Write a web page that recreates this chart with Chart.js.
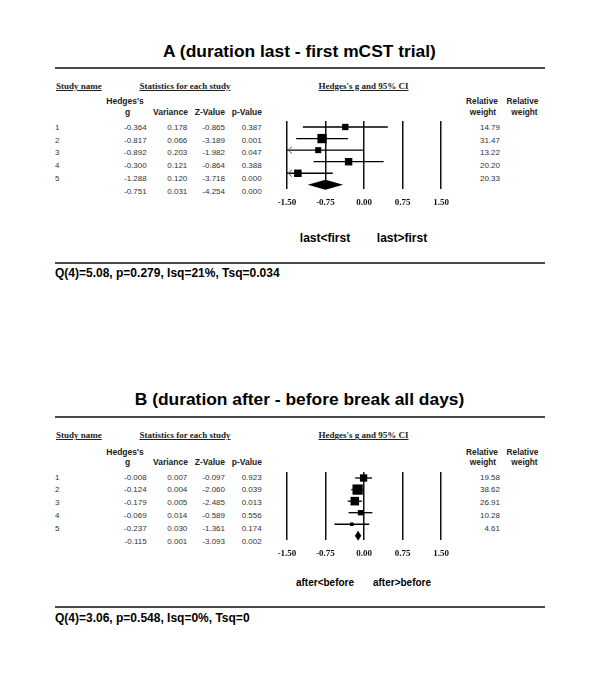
<!DOCTYPE html>
<html>
<head>
<meta charset="utf-8">
<script src="https://cdn.jsdelivr.net/npm/chart.js@4"></script>
<style>
  html, body { margin:0; padding:0; background:#fff; }
  #page { position:relative; width:600px; height:680px; overflow:hidden; background:#fff; }
  .t { position:absolute; white-space:nowrap; color:#111; }
  .rule { position:absolute; background:#4a4a4a; height:2px; }
  canvas { position:absolute; }
</style>
</head>
<body>
<div id="page"></div>
<script>
// ---------------- DATA ----------------
const studyNames = ['1', '2', '3', '4', '5'];
const xTicks = [-1.5, -0.75, 0, 0.75, 1.5];

// Panel A
const titleA = 'A (duration last - first mCST trial)';
const hedgesA   = [-0.364, -0.817, -0.892, -0.300, -1.288];
const varianceA = [0.178, 0.066, 0.203, 0.121, 0.120];
const zValueA   = [-0.865, -3.189, -1.982, -0.864, -3.718];
const pValueA   = [0.387, 0.001, 0.047, 0.388, 0.000];
const lowerA    = [-1.191, -1.321, -1.775, -0.982, -1.967];
const upperA    = [0.463, -0.313, -0.009, 0.382, -0.609];
const weightA   = [14.79, 31.47, 13.22, 20.20, 20.33];
const summaryA  = [-0.751, 0.031, -4.254, 0.000];   // g, variance, z, p
const summaryCIA = [-1.096, -0.406];
const sideLabelsA = ['last<first', 'last>first'];
const footerA = 'Q(4)=5.08, p=0.279, Isq=21%, Tsq=0.034';

// Panel B
const titleB = 'B (duration after - before break all days)';
const hedgesB   = [-0.008, -0.124, -0.179, -0.069, -0.237];
const varianceB = [0.007, 0.004, 0.005, 0.014, 0.030];
const zValueB   = [-0.097, -2.060, -2.485, -0.589, -1.361];
const pValueB   = [0.923, 0.039, 0.013, 0.556, 0.174];
const lowerB    = [-0.172, -0.248, -0.318, -0.301, -0.576];
const upperB    = [0.156, 0.000, -0.040, 0.163, 0.102];
const weightB   = [19.58, 38.62, 26.91, 10.28, 4.61];
const summaryB  = [-0.115, 0.001, -3.093, 0.002];
const summaryCIB = [-0.177, -0.053];
const sideLabelsB = ['after<before', 'after>before'];
const footerB = 'Q(4)=3.06, p=0.548, Isq=0%, Tsq=0';

// ---------------- LAYOUT ----------------
const page = document.getElementById('page');
const SANS = '"Liberation Sans", Arial, sans-serif';
const SERIF = '"Liberation Serif", "Times New Roman", serif';

function txt(s, x, base, o) {
  const size = o.size || 8;
  const d = document.createElement('div');
  d.className = 't';
  d.textContent = s;
  let tx = '0';
  if (o.align === 'center') tx = '-50%';
  else if (o.align === 'right') tx = '-100%';
  d.style.left = x + 'px';
  d.style.top = (base - 0.845 * size) + 'px';
  d.style.transform = 'translateX(' + tx + ')';
  d.style.fontFamily = o.family || SANS;
  d.style.fontSize = size + 'px';
  d.style.lineHeight = size + 'px';
  d.style.fontWeight = o.bold ? 'bold' : 'normal';
  if (o.color) d.style.color = o.color;
  if (o.ul) d.style.textDecoration = 'underline';
  if (o.ls) d.style.letterSpacing = o.ls + 'px';
  page.appendChild(d);
}
function rule(top) {
  const d = document.createElement('div');
  d.className = 'rule';
  d.style.left = '55px'; d.style.width = '490px'; d.style.top = top + 'px';
  page.appendChild(d);
}

function panel(P) {
  txt(P.title, 299.5, P.titleBase, {align:'center', size:17.4, bold:true, color:'#000'});
  rule(P.ruleTop);
  txt('Study name', 56, P.headBase, {size:9, bold:true, family:SERIF, ul:true, color:'#222'});
  txt('Statistics for each study', 185, P.headBase, {align:'center', size:9, bold:true, family:SERIF, ul:true, color:'#222'});
  txt("Hedges's g and 95% CI", 363.5, P.headBase, {align:'center', size:9, bold:true, family:SERIF, ul:true, color:'#222'});
  txt("Hedges's", 125, P.hedBase, {align:'center', size:8.5, bold:true, color:'#222'});
  txt('g', 127.5, P.colBase, {align:'center', size:8.5, bold:true, color:'#222'});
  txt('Variance', 188, P.colBase, {align:'right', size:8.5, bold:true, color:'#222'});
  txt('Z-Value', 225, P.colBase, {align:'right', size:8.5, bold:true, color:'#222'});
  txt('p-Value', 262, P.colBase, {align:'right', size:8.5, bold:true, color:'#222'});
  txt('Relative', 482, P.hedBase, {align:'center', size:8.3, bold:true, color:'#222'});
  txt('weight', 483, P.colBase, {align:'center', size:8.3, bold:true, color:'#222'});
  txt('Relative', 522.5, P.hedBase, {align:'center', size:8.3, bold:true, color:'#222'});
  txt('weight', 524.5, P.colBase, {align:'center', size:8.3, bold:true, color:'#222'});
  for (let i = 0; i <= P.g.length; i++) {
    const b = P.rowBase + i * P.rowStep;
    const isSum = i === P.g.length;
    const vals = isSum ? P.sum : [P.g[i], P.v[i], P.z[i], P.p[i]];
    if (!isSum) {
      txt(studyNames[i], 55, b, {size:8, color:'#333'});
      txt(P.w[i].toFixed(2), 500, b, {align:'right', size:8, color:'#333'});
    }
    txt(vals[0].toFixed(3), 146.7, b, {align:'right', size:8, color:'#333'});
    txt(vals[1].toFixed(3), 187.3, b, {align:'right', size:8, color:'#333'});
    txt(vals[2].toFixed(3), 225, b, {align:'right', size:8, color:'#333'});
    txt(vals[3].toFixed(3), 261.7, b, {align:'right', size:8, color:'#333'});
  }
  txt(P.side[0], 325, P.sideBase, {align:'center', size:P.sideSize, bold:true, color:'#000'});
  txt(P.side[1], 402, P.sideBase, {align:'center', size:P.sideSize, bold:true, color:'#000'});
  rule(P.footRule);
  txt(P.footer, 55, P.footBase, {size:12, bold:true, color:'#000'});

  // ---- forest plot (Chart.js) ----
  const cv = document.createElement('canvas');
  const W = 215, H = 106;
  cv.width = W; cv.height = H;
  cv.style.left = '256px'; cv.style.top = (P.chartTop - 10) + 'px';
  cv.style.width = W + 'px'; cv.style.height = H + 'px';
  page.appendChild(cv);

  const whiskers = {
    id: 'whiskers',
    beforeDatasetsDraw(chart) {
      const {ctx, scales: {x, y}} = chart;
      ctx.save();
      ctx.strokeStyle = '#000';
      ctx.lineWidth = 1.3;
      for (let i = 0; i < P.g.length; i++) {
        const yy = y.getPixelForValue(i);
        const lo = Math.max(P.lo[i], x.min), hi = Math.min(P.hi[i], x.max);
        const x1 = x.getPixelForValue(lo), x2 = x.getPixelForValue(hi);
        ctx.beginPath(); ctx.moveTo(x1, yy); ctx.lineTo(x2, yy); ctx.stroke();
        if (P.lo[i] < x.min) {
          ctx.save();
          ctx.strokeStyle = '#666'; ctx.lineWidth = 1;
          ctx.beginPath();
          ctx.moveTo(x1 + 5, yy - 3.5); ctx.lineTo(x1 + 1, yy); ctx.lineTo(x1 + 5, yy + 3.5);
          ctx.stroke();
          ctx.restore();
        }
      }
      ctx.restore();
    },
    afterDatasetsDraw(chart) {
      const {ctx, scales: {x, y}} = chart;
      const yy = y.getPixelForValue(P.g.length);
      const xl = x.getPixelForValue(P.ci[0]), xr = x.getPixelForValue(P.ci[1]);
      const xc = x.getPixelForValue(P.sum[0]);
      ctx.save();
      ctx.fillStyle = '#000';
      ctx.beginPath();
      ctx.moveTo(xl, yy); ctx.lineTo(xc, yy - 5); ctx.lineTo(xr, yy); ctx.lineTo(xc, yy + 5);
      ctx.closePath(); ctx.fill();
      ctx.restore();
    }
  };

  new Chart(cv, {
    type: 'scatter',
    data: {
      datasets: [{
        data: P.g.map((v, i) => ({x: v, y: i})),
        pointStyle: 'rect',
        backgroundColor: '#000',
        borderColor: '#000',
        borderWidth: 0,
        pointRadius: c => 1.17 * Math.sqrt(P.w[c.dataIndex]),
        pointHoverRadius: c => 1.17 * Math.sqrt(P.w[c.dataIndex])
      }]
    },
    options: {
      responsive: false,
      animation: false,
      events: [],
      layout: {padding: {left: 31, right: 30, top: 10, bottom: 1.2}},
      plugins: {legend: {display: false}, tooltip: {enabled: false}},
      scales: {
        x: {
          type: 'linear', min: xTicks[0], max: xTicks[xTicks.length - 1],
          afterBuildTicks: ax => { ax.ticks = xTicks.map(v => ({value: v})); },
          grid: {color: '#111', lineWidth: 1.5, drawTicks: false},
          border: {display: false},
          ticks: {padding: 8, color: '#111', autoSkip: false, maxRotation: 0,
                  font: {family: SERIF, weight: 'bold', size: 9},
                  callback: v => Number(v).toFixed(2)}
        },
        y: {type: 'linear', min: -0.52, max: 5.36, reverse: true, display: false}
      }
    },
    plugins: [whiskers]
  });
}

panel({
  title: titleA, titleBase: 57.5, ruleTop: 67.3, headBase: 89.3, hedBase: 104.5, colBase: 114.8,
  rowBase: 130.4, rowStep: 12.92, chartTop: 121, sideBase: 241.7, sideSize: 12,
  footRule: 262.3, footBase: 277.5,
  g: hedgesA, v: varianceA, z: zValueA, p: pValueA, lo: lowerA, hi: upperA, w: weightA,
  sum: summaryA, ci: summaryCIA, side: sideLabelsA, footer: footerA
});
panel({
  title: titleB, titleBase: 406, ruleTop: 416.3, headBase: 439, hedBase: 455.5, colBase: 465,
  rowBase: 480.3, rowStep: 12.92, chartTop: 471.7, sideBase: 586.5, sideSize: 10,
  footRule: 606.3, footBase: 622,
  g: hedgesB, v: varianceB, z: zValueB, p: pValueB, lo: lowerB, hi: upperB, w: weightB,
  sum: summaryB, ci: summaryCIB, side: sideLabelsB, footer: footerB
});
</script>
</body>
</html>
